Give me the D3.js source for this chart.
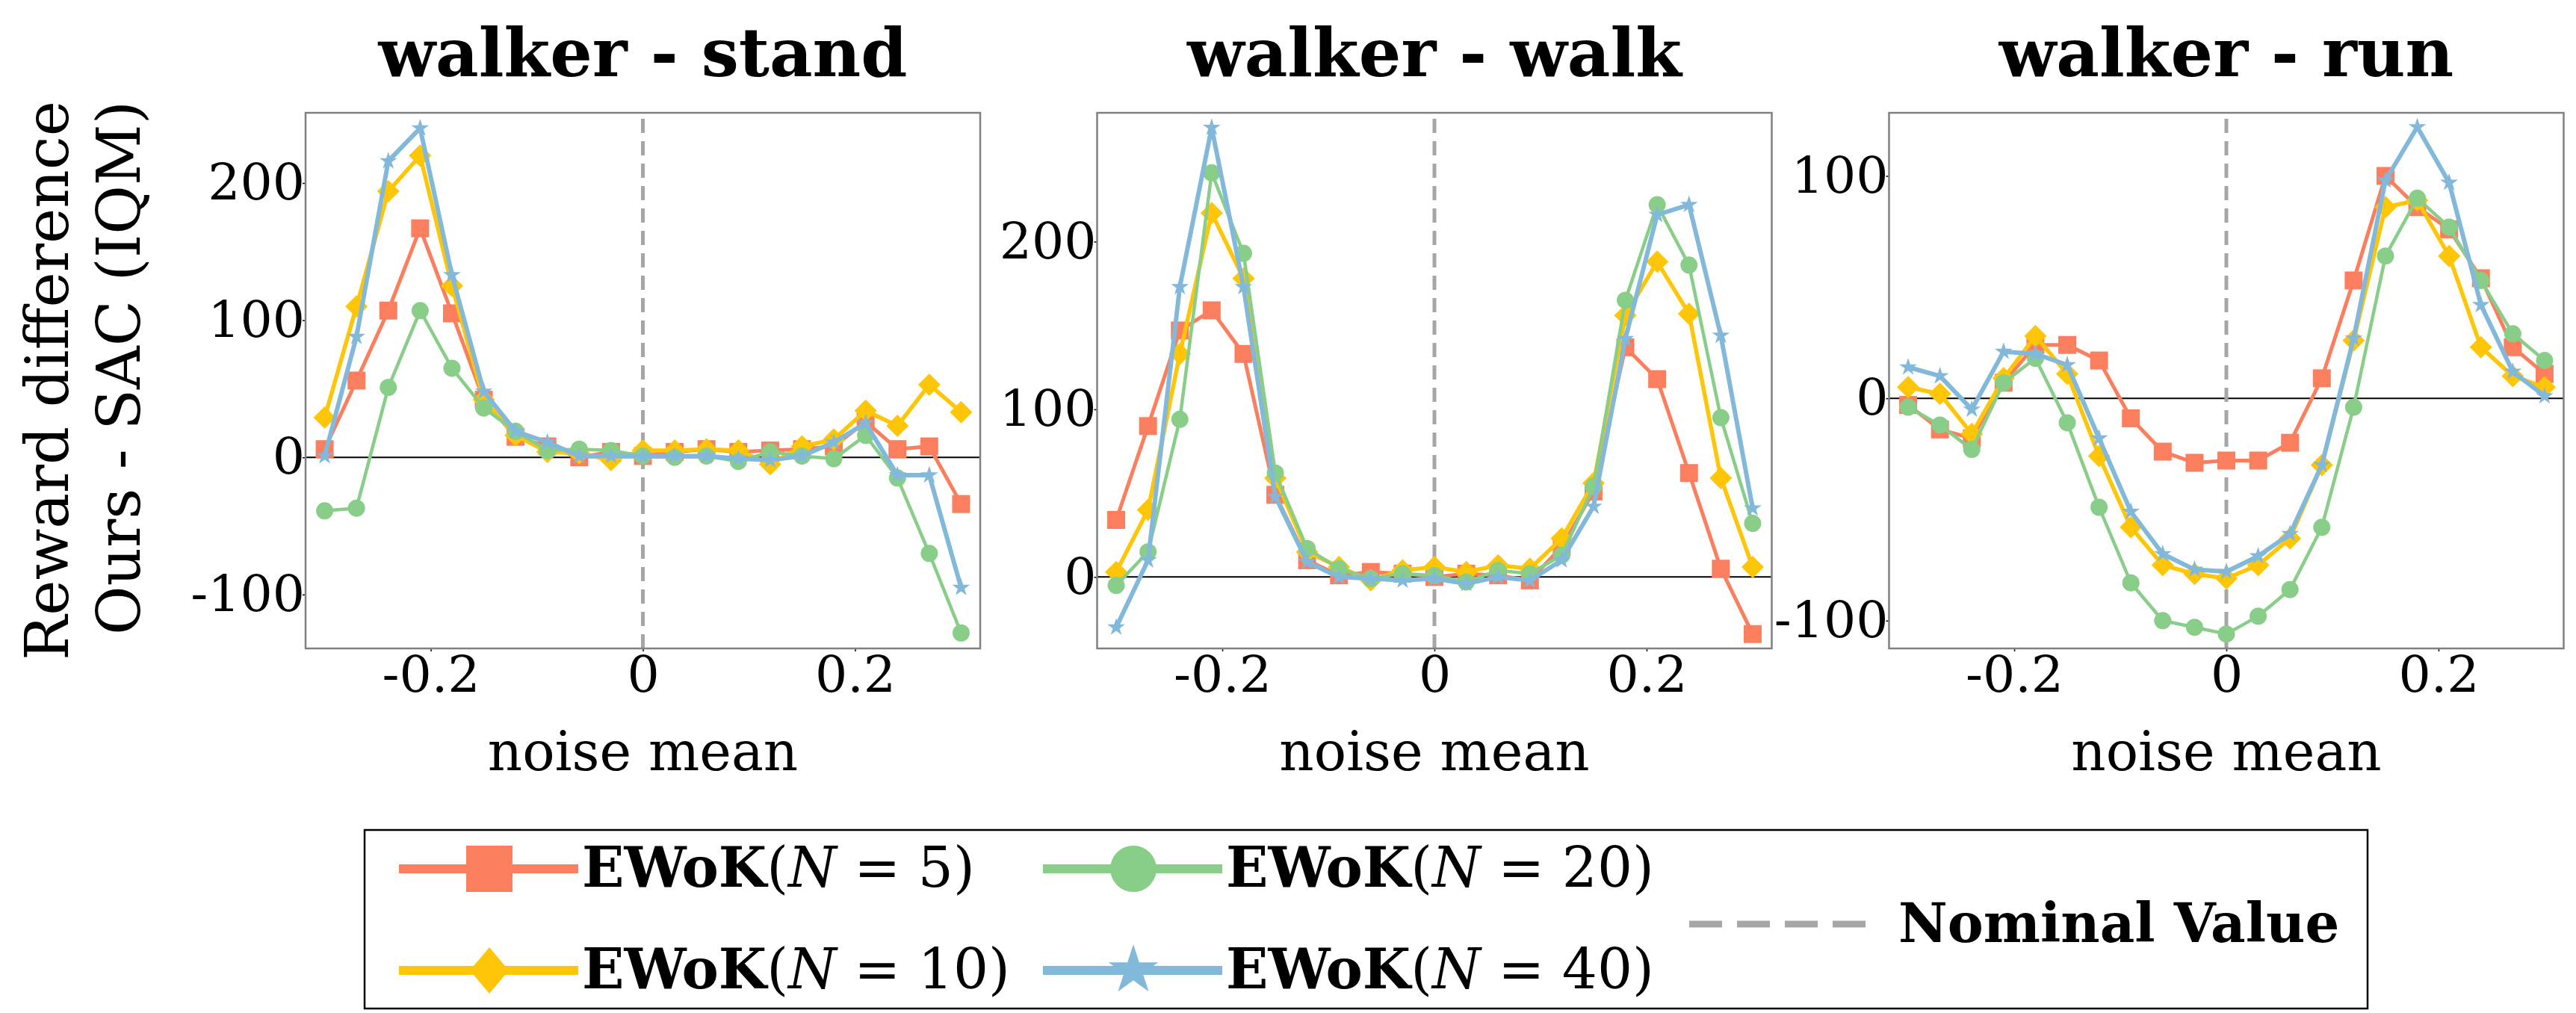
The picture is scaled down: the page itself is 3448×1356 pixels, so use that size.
<!DOCTYPE html>
<html>
<head>
<meta charset="utf-8">
<script src="https://cdn.jsdelivr.net/npm/d3@7"></script>
<style>
  body { margin: 0; background: #fff; }
  svg text { font-family: "DejaVu Serif"; }
</style>
</head>
<body>
<div id="chart"></div>
<script>
// x values shared by every series
const noiseMean = [-0.30, -0.27, -0.24, -0.21, -0.18, -0.15, -0.12, -0.09, -0.06, -0.03, 0,
                   0.03, 0.06, 0.09, 0.12, 0.15, 0.18, 0.21, 0.24, 0.27, 0.30];

const taskNames = ['walker - stand', 'walker - walk', 'walker - run'];
const ensembleSizes = [5, 10, 20, 40];
const nominalLabel = 'Nominal Value';

// walker - stand
const standN5  = [6, 56, 107, 167, 105, 42, 15, 8, 0, 4, 1, 4, 6, 4, 5, 6, 8, 26, 6, 8, -34];
const standN10 = [29, 110, 194, 220, 125, 42, 16, 4, 3, -2, 5, 5, 6, 5, -5, 8, 13, 34, 23, 53, 33];
const standN20 = [-39, -37, 51, 107, 65, 36, 19, 5, 6, 5, 1, 0, 1, -3, 4, 1, -1, 16, -15, -70, -128];
const standN40 = [1, 88, 216, 240, 133, 48, 19, 11, 1, 1, 1, 1, 1, -1, -2, 1, 11, 25, -13, -13, -95];

// walker - walk
const walkN5  = [34, 90, 147, 159, 133, 49, 10, 1, 3, 2, 0, 2, 1, -2, 18, 51, 137, 118, 62, 5, -34];
const walkN10 = [3, 40, 133, 217, 178, 59, 15, 6, -2, 4, 6, 3, 7, 5, 23, 56, 156, 188, 157, 59, 6];
const walkN20 = [-5, 15, 94, 241, 193, 62, 17, 5, -1, 2, 1, -3, 4, 2, 13, 54, 165, 222, 186, 95, 32];
const walkN40 = [-30, 10, 173, 268, 173, 48, 9, 0, -1, -2, -1, -4, 0, -2, 10, 42, 142, 216, 222, 144, 41];

// walker - run
const runN5  = [-3, -14, -18, 7, 24, 24, 17, -9, -24, -29, -28, -28, -20, 9, 53, 100, 86, 76, 54, 23, 11];
const runN10 = [5, 2, -16, 9, 28, 11, -26, -58, -75, -79, -81, -75, -63, -30, 26, 86, 89, 64, 23, 10, 5];
const runN20 = [-4, -12, -23, 7, 18, -11, -49, -83, -100, -103, -106, -98, -86, -58, -4, 64, 90, 77, 53, 29, 17];
const runN40 = [14, 10, -5, 21, 20, 15, -18, -51, -70, -77, -78, -71, -61, -30, 27, 98, 122, 97, 42, 12, 1];

const panelSeries = [
    [standN5, standN10, standN20, standN40],
    [walkN5, walkN10, walkN20, walkN40],
    [runN5, runN10, runN20, runN40]
];

// axis limits and ticks
const xDomain = [-0.318, 0.318];
const xTicks = [-0.2, 0, 0.2];
const yDomains = [[-139.3, 251.2], [-42.6, 276.8], [-112.5, 128.4]];
const yTicks = [[-100, 0, 100, 200], [0, 100, 200], [-100, 0, 100]];

document.addEventListener('DOMContentLoaded', function () {
    const width = 3448;
    const height = 1356;

    const colors = ['#fb7f5e', '#ffc507', '#88ce88', '#82b9db'];
    const lineWidths = [5, 5.5, 4.5, 6];
    const shapes = ['square', 'diamond', 'circle', 'star'];

    const panelLeft = [409, 1468.5, 2528.5];
    const panelWidth = 903;
    const top = 151, bottom = 868;

    const svg = d3.select('#chart')
        .append('svg')
        .attr('width', width)
        .attr('height', height);

    svg.append('rect').attr('width', width).attr('height', height).attr('fill', '#fff');

    // marker outlines, centred on 0,0
    function markerPath(shape, big) {
        if (shape === 'square') {
            const s = big ? 62 : 24;
            return `M${-s / 2},${-s / 2}h${s}v${s}h${-s}Z`;
        }
        if (shape === 'diamond') {
            const w = big ? 52 : 30, h = big ? 62 : 30;
            return `M0,${-h / 2}L${w / 2},0L0,${h / 2}L${-w / 2},0Z`;
        }
        if (shape === 'circle') {
            const r = big ? 31 : 11.5;
            return d3.symbol(d3.symbolCircle, Math.PI * r * r)();
        }
        const r = big ? 35 : 12.5;
        return d3.symbol(d3.symbolStar, r * r / 0.8908130915292852)();
    }

    panelSeries.forEach((seriesList, k) => {
        const left = panelLeft[k];
        const x = d3.scaleLinear().domain(xDomain).range([left, left + panelWidth]);
        const y = d3.scaleLinear().domain(yDomains[k]).range([bottom, top]);
        const g = svg.append('g');

        g.append('clipPath').attr('id', 'clip' + k)
            .append('rect')
            .attr('x', left).attr('y', top)
            .attr('width', panelWidth).attr('height', bottom - top);

        // title
        g.append('text')
            .attr('x', left + panelWidth / 2)
            .attr('y', 102)
            .attr('text-anchor', 'middle')
            .attr('font-size', 89)
            .attr('font-weight', 'bold')
            .text(taskNames[k]);

        // axes
        g.append('g')
            .attr('transform', `translate(${left},0)`)
            .call(d3.axisLeft(y).tickValues(yTicks[k]).tickSize(4).tickPadding(-3).tickFormat(d => String(d)))
            .call(a => a.select('.domain').remove())
            .attr('font-size', 68)
            .attr('font-family', 'DejaVu Serif')
            .call(a => a.selectAll('line').attr('stroke', '#000').attr('stroke-width', 1.5));

        g.append('g')
            .attr('transform', `translate(0,${bottom})`)
            .call(d3.axisBottom(x).tickValues(xTicks).tickSize(4).tickPadding(6).tickFormat(d => String(d)))
            .call(a => a.select('.domain').remove())
            .attr('font-size', 68)
            .attr('font-family', 'DejaVu Serif')
            .call(a => a.selectAll('line').attr('stroke', '#000').attr('stroke-width', 1.5));

        const plot = g.append('g').attr('clip-path', `url(#clip${k})`);

        // zero line
        plot.append('line')
            .attr('x1', left).attr('x2', left + panelWidth)
            .attr('y1', y(0)).attr('y2', y(0))
            .attr('stroke', '#000')
            .attr('stroke-width', 2);

        // nominal value
        plot.append('line')
            .attr('x1', x(0)).attr('x2', x(0))
            .attr('y1', bottom).attr('y2', top)
            .attr('stroke', '#a6a6a6')
            .attr('stroke-width', 5)
            .attr('stroke-dasharray', '19,11');

        const line = d3.line()
            .x((d, i) => x(noiseMean[i]))
            .y(d => y(d));

        seriesList.forEach((values, s) => {
            plot.append('path')
                .datum(values)
                .attr('d', line)
                .attr('fill', 'none')
                .attr('stroke', colors[s])
                .attr('stroke-width', lineWidths[s])
                .attr('stroke-linejoin', 'round');

            plot.selectAll('.m' + s)
                .data(values)
                .enter()
                .append('path')
                .attr('class', 'm' + s)
                .attr('transform', (d, i) => `translate(${x(noiseMean[i])},${y(d)})`)
                .attr('d', markerPath(shapes[s], false))
                .attr('fill', colors[s]);
        });

        // frame
        g.append('rect')
            .attr('x', left).attr('y', top)
            .attr('width', panelWidth).attr('height', bottom - top)
            .attr('fill', 'none')
            .attr('stroke', '#808080')
            .attr('stroke-width', 2.5);

        // x label
        g.append('text')
            .attr('x', left + panelWidth / 2)
            .attr('y', 1031)
            .attr('text-anchor', 'middle')
            .attr('font-size', 72)
            .text('noise mean');
    });

    // y label, two lines
    const yLabel = ['Reward difference', 'Ours - SAC (IQM)'];
    yLabel.forEach((txt, i) => {
        svg.append('text')
            .attr('transform', `translate(${91 + i * 96},135) rotate(-90)`)
            .attr('text-anchor', 'end')
            .attr('font-size', 80)
            .text(txt);
    });

    // legend
    svg.append('rect')
        .attr('x', 488).attr('y', 1111)
        .attr('width', 3169 - 488).attr('height', 1350 - 1111)
        .attr('fill', '#fff')
        .attr('stroke', '#000')
        .attr('stroke-width', 2.5);

    const legendCols = [534, 1396];
    const legendRows = [1163, 1299];
    ensembleSizes.forEach((n, s) => {
        const cx = legendCols[Math.floor(s / 2)];
        const cy = legendRows[s % 2];
        svg.append('line')
            .attr('x1', cx).attr('x2', cx + 240)
            .attr('y1', cy).attr('y2', cy)
            .attr('stroke', colors[s])
            .attr('stroke-width', 12);
        svg.append('path')
            .attr('transform', `translate(${cx + 121},${cy})`)
            .attr('d', markerPath(shapes[s], true))
            .attr('fill', colors[s]);
        const t = svg.append('text')
            .attr('x', cx + 245)
            .attr('y', cy + 24)
            .attr('font-size', 74);
        t.append('tspan').attr('font-weight', 'bold').text('EWoK');
        t.append('tspan').text('(');
        t.append('tspan').attr('font-style', 'italic').text('N');
        t.append('tspan').text(' = ' + n + ')');
    });

    svg.append('line')
        .attr('x1', 2261).attr('x2', 2499)
        .attr('y1', 1237).attr('y2', 1237)
        .attr('stroke', '#a6a6a6')
        .attr('stroke-width', 9)
        .attr('stroke-dasharray', '44,20');
    svg.append('text')
        .attr('x', 2541)
        .attr('y', 1261)
        .attr('font-size', 72)
        .attr('font-weight', 'bold')
        .text(nominalLabel);
});
</script>
</body>
</html>
